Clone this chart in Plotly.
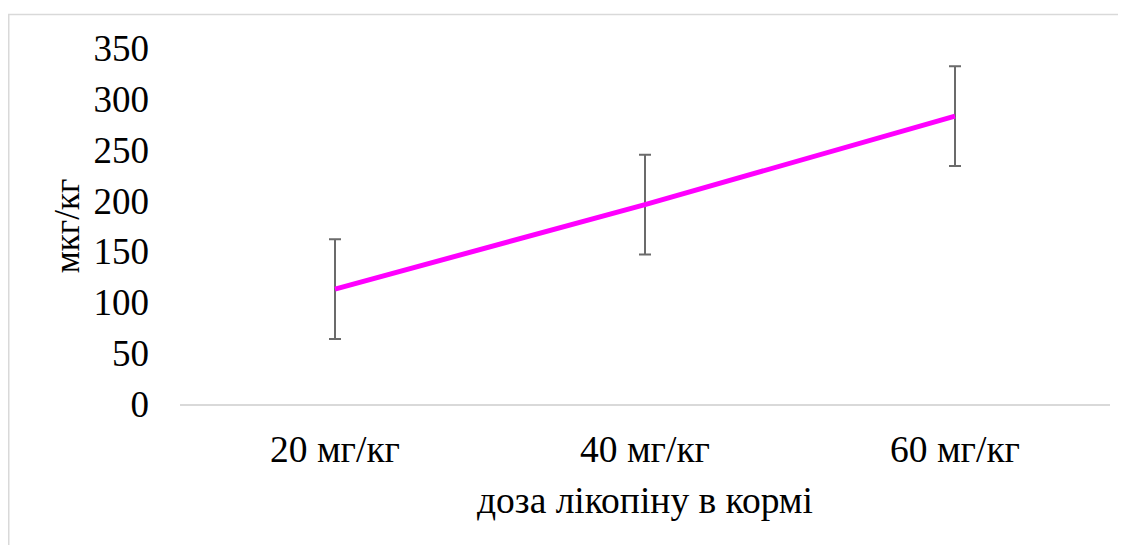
import plotly.graph_objects as go

categories = ["20 мг/кг", "40 мг/кг", "60 мг/кг"]
values = [113, 196, 283]
errors = [49, 49, 49]
y_ticks = [0, 50, 100, 150, 200, 250, 300, 350]

x_title = "доза лікопіну в кормі"
y_title = "мкг/кг"

# page has an 8px body margin, so figure coordinates = page coordinates - 8
W, H = 1118, 537
L, R, T, B = 172, 16, 40, 141
pw, ph = W - L - R, H - T - B

def px_x(px):
    return (px - L) / pw

def px_y(py):
    return (H - B - py) / ph

font_family = "Liberation Serif, Times New Roman, serif"

fig = go.Figure()
fig.add_trace(go.Scatter(
    x=categories,
    y=values,
    mode="lines",
    line=dict(color="#FF00FF", width=5),
    error_y=dict(type="data", array=errors, visible=True,
                 color="#6b6b6b", thickness=2, width=6),
    showlegend=False,
    hoverinfo="skip",
))

border_color = "#d9d9d9"
fig.add_shape(type="line", xref="paper", yref="paper",
              x0=px_x(0.75), x1=px_x(0.75), y0=px_y(6), y1=px_y(600),
              line=dict(color=border_color, width=1.5))
fig.add_shape(type="line", xref="paper", yref="paper",
              x0=px_x(0), x1=px_x(1200), y0=px_y(6.5), y1=px_y(6.5),
              line=dict(color=border_color, width=1.5))

fig.update_layout(
    width=W, height=H,
    margin=dict(l=L, r=R, t=T, b=B, pad=0),
    paper_bgcolor="white",
    plot_bgcolor="white",
    font=dict(family=font_family, color="black", size=37),
    xaxis=dict(
        type="category",
        range=[-0.5, 2.5],
        showgrid=False,
        zeroline=False,
        showline=True,
        linecolor="#d9d9d9",
        linewidth=1.5,
        ticks="",
        tickfont=dict(size=37.5, family=font_family, color="black"),
        ticklabelstandoff=11,
        title=dict(text=x_title, font=dict(size=37.5, family=font_family, color="black"), standoff=18),
    ),
    yaxis=dict(
        range=[0, 350],
        tickvals=y_ticks,
        showgrid=False,
        zeroline=False,
        showline=False,
        ticks="",
        tickfont=dict(size=37, family=font_family, color="black"),
        ticklabelstandoff=30,
        title=dict(text=y_title, font=dict(size=35, family=font_family, color="black"), standoff=3),
    ),
)

fig.write_html("out.html")
